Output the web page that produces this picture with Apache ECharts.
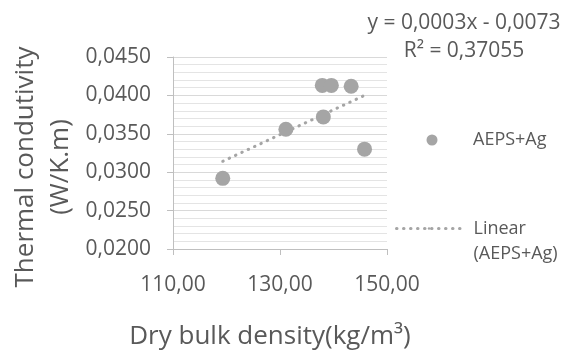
<!DOCTYPE html>
<html>
<head>
<meta charset="utf-8">
<script src="https://cdn.jsdelivr.net/npm/echarts@6/dist/echarts.min.js"></script>
<style>
  html, body { margin: 0; padding: 0; background: #ffffff; }
  #chart { width: 568px; height: 356px; }
</style>
</head>
<body>
<div id="chart"></div>
<script>
// Measured samples: dry bulk density (kg/m³) vs thermal conductivity (W/K.m)
const density = [119.3, 131.1, 137.9, 139.6, 143.3, 138.1, 145.8];
const conductivity = [0.0292, 0.0356, 0.0413, 0.0413, 0.0412, 0.0372, 0.0330];

// Axis ranges: [min, max, interval]
const xRange = [110, 150, 20];
const yRange = [0.0200, 0.0450, 0.0050];

// Text labels
const seriesName = 'AEPS+Ag';
const trendName = 'Linear (AEPS+Ag)';
const trendLegendLines = ['\u00a0', 'Linear', '(AEPS+Ag)'];
const equationLines = ['y = 0,0003x - 0,0073', 'R² = 0,37055'];
const xTitle = 'Dry bulk density(kg/m³)';
const yTitleLines = ['Thermal condutivity', '(W/K.m)'];

// Least-squares linear trend through the samples
function linearFit(xs, ys) {
  const n = xs.length;
  const mx = xs.reduce((a, b) => a + b, 0) / n;
  const my = ys.reduce((a, b) => a + b, 0) / n;
  let sxy = 0, sxx = 0;
  for (let i = 0; i < n; i++) {
    sxy += (xs[i] - mx) * (ys[i] - my);
    sxx += (xs[i] - mx) * (xs[i] - mx);
  }
  const slope = sxy / sxx;
  return { slope: slope, intercept: my - slope * mx };
}
const fit = linearFit(density, conductivity);
const xLo = Math.min(...density);
const xHi = Math.max(...density);
const trendPoints = [
  [xLo, fit.slope * xLo + fit.intercept],
  [xHi, fit.slope * xHi + fit.intercept]
];

const decimalComma = (v, d) => v.toFixed(d).replace('.', ',');

const FONT = '"Open Sans", "Noto Sans", sans-serif';
const TEXT = '#595959';
const MARK = '#a5a5a5';
const AXIS = '#bfbfbf';

const chart = echarts.init(document.getElementById('chart'), null, { renderer: 'canvas' });
chart.setOption({
  animation: false,
  backgroundColor: '#ffffff',
  textStyle: { fontFamily: FONT },
  grid: { left: 173, right: 181, top: 57, bottom: 107, containLabel: false },
  xAxis: {
    type: 'value',
    min: xRange[0], max: xRange[1], interval: xRange[2],
    name: xTitle,
    nameLocation: 'middle',
    nameGap: 75,
    nameTextStyle: { fontFamily: FONT, fontSize: 26, color: TEXT, lineHeight: 26, padding: [0, 20, 0, 0] },
    axisLine: { show: true, lineStyle: { color: AXIS, width: 1 } },
    axisTick: { show: true, length: 6, lineStyle: { color: AXIS } },
    splitLine: { show: false },
    minorSplitLine: { show: false },
    axisLabel: {
      fontFamily: FONT, fontSize: 21, color: TEXT, margin: 26,
      formatter: v => decimalComma(v, 2)
    }
  },
  yAxis: {
    type: 'value',
    min: yRange[0], max: yRange[1], interval: yRange[2],
    name: yTitleLines.join('\n'),
    nameLocation: 'middle',
    nameRotate: 90,
    nameGap: 95,
    nameTextStyle: { fontFamily: FONT, fontSize: 26, color: TEXT, lineHeight: 35, padding: [0, 28, 0, 0] },
    axisLine: { show: true, lineStyle: { color: AXIS, width: 1 } },
    axisTick: { show: true, length: 6, lineStyle: { color: AXIS } },
    splitLine: { show: true, lineStyle: { color: '#d9d9d9', width: 1 } },
    minorTick: { show: false, splitNumber: 5 },
    minorSplitLine: { show: true, lineStyle: { color: '#e4e4e4', width: 1 } },
    axisLabel: {
      fontFamily: FONT, fontSize: 21, color: TEXT, margin: 22,
      formatter: v => decimalComma(v, 4)
    }
  },
  legend: [
    {
      data: [seriesName],
      left: 426.5, top: 130,
      padding: 0,
      icon: 'circle',
      itemWidth: 72, itemHeight: 11,
      textStyle: { fontFamily: FONT, fontSize: 18, color: TEXT, lineHeight: 20 }
    },
    {
      data: [trendName],
      left: 395, top: 191,
      padding: 0,
      itemWidth: 65, itemHeight: 3,
      lineStyle: { width: 3 },
      formatter: () => trendLegendLines.join('\n'),
      textStyle: { fontFamily: FONT, fontSize: 18, color: TEXT, lineHeight: 25, padding: [0, 0, 0, 7] }
    }
  ],
  graphic: [
    {
      type: 'text',
      x: 464, y: 37,
      style: {
        text: equationLines.join('\n'),
        fill: TEXT,
        font: '21px ' + FONT,
        align: 'center',
        verticalAlign: 'middle',
        lineHeight: 28
      }
    }
  ],
  series: [
    {
      name: trendName,
      type: 'line',
      data: trendPoints,
      symbol: 'none',
      z: 1,
      lineStyle: { color: MARK, width: 3, type: [0.5, 6.5], cap: 'round' },
      itemStyle: { color: MARK },
      silent: true
    },
    {
      name: seriesName,
      type: 'scatter',
      data: density.map((x, i) => [x, conductivity[i]]),
      symbol: 'circle',
      symbolSize: 15,
      z: 2,
      itemStyle: { color: MARK, opacity: 1 }
    }
  ]
});
</script>
</body>
</html>
